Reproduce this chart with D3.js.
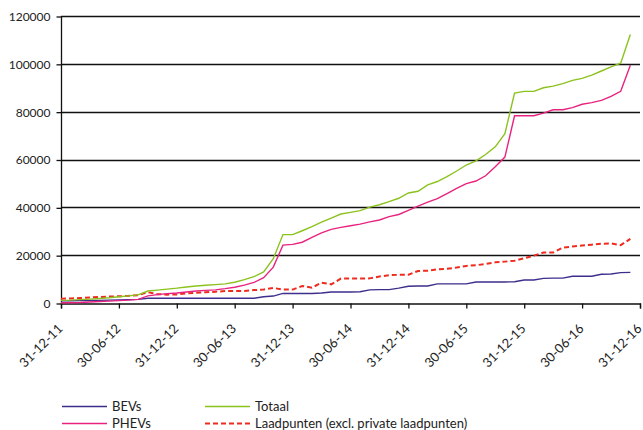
<!DOCTYPE html>
<html>
<head>
<meta charset="utf-8">
<script src="https://d3js.org/d3.v7.min.js"></script>
<style>
  body { margin: 0; background: #fff; }
  text { font-family: Lato, "Open Sans", sans-serif; fill: #222; }
</style>
</head>
<body>
<script>
// Tick labels on the x axis (one every 6 months)
var tickLabels = ["31-12-11", "30-06-12", "31-12-12", "30-06-13", "31-12-13", "30-06-14",
                  "31-12-14", "30-06-15", "31-12-15", "30-06-16", "31-12-16"];
var yTicks = [0, 20000, 40000, 60000, 80000, 100000, 120000];

// Monthly values, one per month slot
var bevs = [900, 950, 1000, 1050, 1100, 1200, 1300, 1400, 1500, 2000,
            2000, 2000, 2000, 2000, 2000, 2000, 2000, 2000, 2000, 2000,
            2000, 2600, 2900, 4000, 4000, 4000, 4000, 4200, 4600, 4600,
            4600, 4700, 5500, 5600, 5600, 6200, 7000, 7100, 7100, 8000,
            8000, 8000, 8000, 8800, 8800, 8800, 8800, 8900, 9600, 9600,
            10300, 10400, 10400, 11200, 11200, 11200, 12000, 12100, 12700, 12800];

var phevs = [100, 100, 200, 400, 600, 800, 1000, 1200, 1500, 3000,
             3500, 3900, 4200, 4600, 5000, 5300, 5500, 6000, 6600, 7500,
             8600, 10600, 15000, 24200, 24500, 25400, 27400, 29300, 30800, 31600,
             32300, 33000, 33900, 34700, 36100, 37000, 38700, 40500, 42200, 43600,
             45700, 47900, 49900, 51000, 53200, 57000, 61000, 78300, 78300, 78300,
             79400, 80800, 80800, 81700, 83100, 83800, 84700, 86400, 88500, 99400];

var totaal = [1100, 1200, 1400, 1600, 1900, 2200, 2600, 3000, 3400, 5000,
              5400, 5800, 6200, 6700, 7100, 7400, 7700, 8000, 8700, 9800,
              11000, 13000, 18500, 28600, 28600, 30200, 31900, 33800, 35500, 37200,
              37900, 38600, 40100, 41100, 42400, 43800, 46000, 46700, 49400, 50800,
              52800, 55200, 57700, 59400, 62100, 65300, 70800, 87800, 88500, 88500,
              90000, 90700, 91700, 93100, 93900, 95300, 97000, 98700, 100300, 112300];

var laadpunten = [1800, 1900, 2100, 2300, 2500, 2700, 2800, 3000, 3300, 4500,
                  3700, 3500, 3600, 4000, 4300, 4500, 4700, 5000, 5000, 5000,
                  5400, 5600, 6300, 5600, 5600, 7100, 6400, 8500, 7800, 10200,
                  10200, 10200, 10300, 11100, 11600, 11800, 11800, 13400, 13500, 14100,
                  14300, 14800, 15500, 15800, 16300, 17000, 17300, 17700, 18700, 19800,
                  21100, 21100, 23200, 23600, 24000, 24400, 24800, 24900, 24200, 26800];

var seriesNames = ["BEVs", "PHEVs", "Totaal", "Laadpunten (excl. private laadpunten)"];

var svgWidth = 643, svgHeight = 430;
var plotLeft = 61, plotRight = 640, plotTop = 16, plotBottom = 303;

var svg = d3.select("body").append("svg")
  .attr("width", svgWidth)
  .attr("height", svgHeight);

svg.append("rect")
  .attr("width", svgWidth)
  .attr("height", svgHeight)
  .style("fill", "#fff");

// month slots: 60 months of data on a 61-slot axis
var x = d3.scaleLinear().domain([0, 60]).range([plotLeft, plotRight]);
var y = d3.scaleLinear().domain([0, 120000]).range([plotBottom, plotTop]);

//============//
// Grid lines //
//============//
svg.append("g")
  .selectAll("line")
  .data(yTicks.slice(1))
  .enter().append("line")
  .attr("x1", plotLeft)
  .attr("x2", plotRight)
  .attr("y1", function(d) { return Math.round(y(d)) + 0.5; })
  .attr("y2", function(d) { return Math.round(y(d)) + 0.5; })
  .style("stroke", "#111")
  .style("stroke-width", 1.3);

//======//
// Axes //
//======//
var yAxis = svg.append("g")
  .attr("transform", "translate(" + (plotLeft + 0.5) + ",0.5)")
  .call(d3.axisLeft(y).tickValues(yTicks).tickSize(5).tickPadding(6).tickFormat(d3.format("d")));

var xAxis = svg.append("g")
  .attr("transform", "translate(0," + (Math.round(plotBottom) + 0.5) + ")")
  .call(d3.axisBottom(x).tickValues(d3.range(0, 61, 6)).tickSize(5)
    .tickFormat(function(d) { return tickLabels[d / 6]; }));

[yAxis, xAxis].forEach(function(a) {
  a.select(".domain").style("stroke", "#111").style("stroke-width", 1.3);
  a.selectAll(".tick line").style("stroke", "#111").style("stroke-width", 1.3);
  a.selectAll("text").style("font-size", "12px").style("fill", "#222");
});
yAxis.select(".domain").attr("d", "M0," + (plotTop - 0.5) + "V" + (plotBottom - 0.5));

xAxis.selectAll("text")
  .attr("y", 0)
  .attr("dy", 0)
  .attr("transform", "translate(2,26) rotate(-45)")
  .style("text-anchor", "end")
  .style("font-size", "13px");

//=======//
// Lines //
//=======//
var line = d3.line()
  .x(function(d, i) { return x(i); })
  .y(function(d) { return y(d); });

var styles = [
  { data: bevs, color: "#3d2e8c", width: 1.4, dash: null },
  { data: phevs, color: "#e8237f", width: 1.4, dash: null },
  { data: totaal, color: "#8cc21e", width: 1.4, dash: null },
  { data: laadpunten, color: "#ee2b1e", width: 2, dash: "5,3" }
];

// draw laadpunten first so the others sit on top like the original
[3, 0, 1, 2].forEach(function(k) {
  var s = styles[k];
  svg.append("path")
    .datum(s.data)
    .attr("d", line)
    .style("fill", "none")
    .style("stroke", s.color)
    .style("stroke-width", s.width)
    .style("stroke-dasharray", s.dash);
});

//========//
// Legend //
//========//
var legendPos = [[62, 406.5], [62, 423.5], [205, 406.5], [205, 423.5]];
var legend = svg.append("g");
seriesNames.forEach(function(name, k) {
  var p = legendPos[k], s = styles[k];
  legend.append("line")
    .attr("x1", p[0])
    .attr("x2", p[0] + 45)
    .attr("y1", p[1])
    .attr("y2", p[1])
    .style("stroke", s.color)
    .style("stroke-width", s.width)
    .style("stroke-dasharray", s.dash);
  legend.append("text")
    .attr("x", p[0] + 50)
    .attr("y", p[1])
    .attr("dy", "0.35em")
    .style("font-size", "13px")
    .text(name);
});
</script>
</body>
</html>
